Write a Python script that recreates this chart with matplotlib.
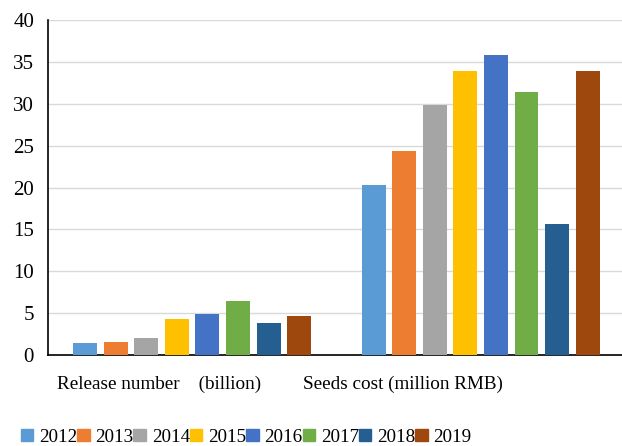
import numpy as np
import matplotlib.pyplot as plt
from matplotlib.patches import Patch

plt.rcParams['font.family'] = ['Liberation Serif', 'DejaVu Serif']

years = ["2012", "2013", "2014", "2015", "2016", "2017", "2018", "2019"]
categories = ["Release number    (billion)", "Seeds cost (million RMB)"]
release_number = [1.4, 1.6, 2.0, 4.3, 4.9, 6.5, 3.8, 4.7]
seeds_cost = [20.3, 24.4, 29.8, 33.9, 35.8, 31.4, 15.7, 33.9]
colors = ["#5b9bd5", "#ed7d31", "#a5a5a5", "#ffc000",
          "#4472c4", "#70ad47", "#255e91", "#9e480e"]

fig = plt.figure(figsize=(6.22, 4.46), dpi=100)
ax = fig.add_axes([0.077, 0.204, 0.923, 0.751])

x = np.arange(len(categories))
pitch = 0.106
width = 0.083
for i, yr in enumerate(years):
    vals = [release_number[i], seeds_cost[i]]
    ax.bar(x + (i - 3.5) * pitch, vals, width=width, color=colors[i],
           label=yr, zorder=3)

ax.set_xlim(-0.5, 1.49)
ax.set_ylim(0, 40)
ax.set_yticks(range(0, 41, 5))
ax.yaxis.grid(True, color="#d9d9d9", linewidth=1)
ax.set_axisbelow(True)
for s in ["top", "right"]:
    ax.spines[s].set_visible(False)
ax.spines["left"].set_linewidth(1.2)
ax.spines["bottom"].set_linewidth(1.2)
ax.tick_params(length=0, labelsize=15)
ax.tick_params(axis="y", pad=10)

# category labels sit a bit left of the group centres
ax.set_xticks(x + np.array([-0.115, -0.27]))
ax.set_xticklabels(categories, fontsize=13.8)
ax.tick_params(axis="x", pad=15)

handles = [Patch(color=c) for c in colors]
fig.legend(handles, years, loc="lower left", bbox_to_anchor=(0.015, -0.025),
           ncol=8, frameon=False, fontsize=13.8, handlelength=0.65,
           handleheight=0.65, handletextpad=0.3, columnspacing=0.0,
           borderaxespad=0.2)

fig.savefig("out.png", dpi=100)
